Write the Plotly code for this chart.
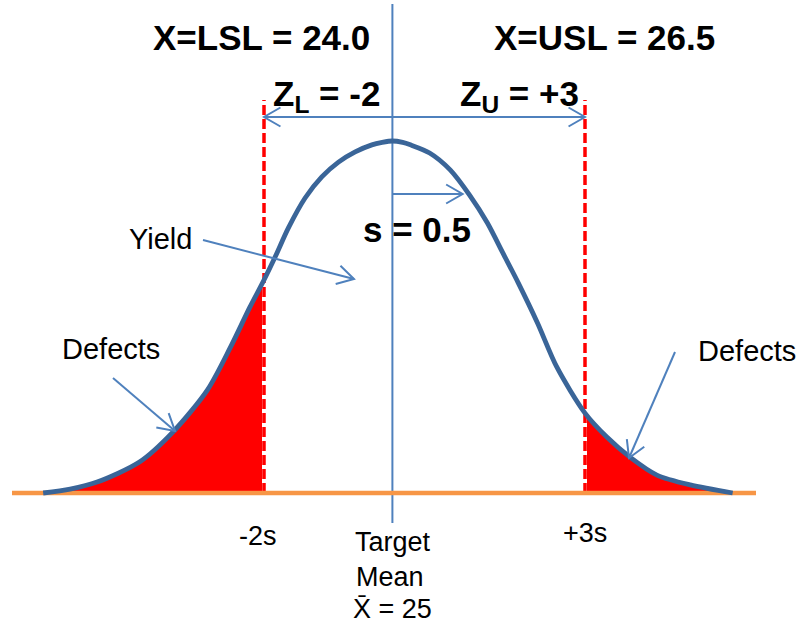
import math
import plotly.graph_objects as go

# Process parameters
mean = 25.0
sigma = 0.5
lsl = 24.0
usl = 26.5

# Bell curve outline (process value, relative height)
curve_x = [22.28, 22.49, 22.70, 23.03, 23.29, 23.56, 23.74, 23.89, 24.00, 24.09,
           24.19, 24.32, 24.45, 24.58, 24.71, 24.84, 24.92, 25.00, 25.08, 25.14,
           25.29, 25.45, 25.60, 25.74, 25.86, 25.98, 26.13, 26.28, 26.50, 26.67,
           26.85, 27.06, 27.32, 27.65]
curve_y = [0.0, 0.011, 0.031, 0.088, 0.173, 0.293, 0.415, 0.528, 0.605, 0.673,
           0.753, 0.838, 0.898, 0.940, 0.969, 0.989, 0.996, 1.0, 0.996, 0.989,
           0.966, 0.918, 0.847, 0.767, 0.682, 0.597, 0.483, 0.358, 0.227, 0.159,
           0.102, 0.051, 0.023, 0.0]

W, H = 803, 623
X_ORIGIN = 21.9439      # process value at the left edge
X_SCALE = 128.4         # pixels per process unit
Y_SCALE = 352.0         # pixels per unit of relative height
BASE_PX = 493.0         # pixel row of the zero line

x_range = [X_ORIGIN, X_ORIGIN + W / X_SCALE]
y_range = [-(H - BASE_PX) / Y_SCALE, BASE_PX / Y_SCALE]

FONT = "Liberation Sans, Arial, sans-serif"
CURVE = "#3A6598"
ARROW = "#4F81BD"
RED = "#FF0000"
ORANGE = "#F79646"


def vx(px):
    return X_ORIGIN + px / X_SCALE


def vy(py):
    return (BASE_PX - py) / Y_SCALE


def to_px(v):
    return (v - X_ORIGIN) * X_SCALE


def pxp(px):
    return px / W


def pyp(py):
    return 1 - py / H


fig = go.Figure()

# Defect tails
left_x = [v for v in curve_x if v <= lsl]
left_y = curve_y[:len(left_x)]
right_idx = [i for i, v in enumerate(curve_x) if v >= usl]
right_x = [curve_x[i] for i in right_idx]
right_y = [curve_y[i] for i in right_idx]
for fx, fy in ((left_x, left_y), (right_x, right_y)):
    fig.add_trace(go.Scatter(x=fx, y=fy, mode="lines", fill="tozeroy",
                             fillcolor=RED, line=dict(width=0, shape="spline"),
                             hoverinfo="skip"))

# Spec limit lines
spec_top = vy(100)
for lim in (lsl, usl):
    fig.add_trace(go.Scatter(x=[lim, lim], y=[0, spec_top], mode="lines",
                             line=dict(color="white", width=4), hoverinfo="skip"))
    fig.add_trace(go.Scatter(x=[lim, lim], y=[0, spec_top], mode="lines",
                             line=dict(color=RED, width=3.5, dash="10px,4px"),
                             hoverinfo="skip"))

# Target mean line
fig.add_trace(go.Scatter(x=[mean, mean], y=[vy(523), vy(4)], mode="lines",
                         line=dict(color=ARROW, width=2), hoverinfo="skip"))

# Zero line
fig.add_trace(go.Scatter(x=[vx(12), vx(756)], y=[0, 0], mode="lines",
                         line=dict(color=ORANGE, width=4.5), hoverinfo="skip"))

# Distribution curve
fig.add_trace(go.Scatter(x=curve_x, y=curve_y, mode="lines",
                         line=dict(color=CURVE, width=4.8, shape="spline",
                                   smoothing=0.8),
                         hoverinfo="skip"))


def arrow(start, tip, heads=("tip",), length=19, angle=30):
    """Open-V arrow drawn in pixel space, converted to paper coordinates."""
    shapes = []
    (sx, sy), (tx, ty) = start, tip
    shapes.append(dict(type="line", xref="paper", yref="paper",
                       x0=pxp(sx), y0=pyp(sy), x1=pxp(tx), y1=pyp(ty),
                       line=dict(color=ARROW, width=2), layer="above"))
    ends = []
    if "tip" in heads:
        ends.append(((tx, ty), (sx, sy)))
    if "start" in heads:
        ends.append(((sx, sy), (tx, ty)))
    for (hx, hy), (ox, oy) in ends:
        d = math.hypot(ox - hx, oy - hy)
        ux, uy = (ox - hx) / d, (oy - hy) / d
        pts = []
        for sgn in (1, -1):
            a = math.radians(angle) * sgn
            rx = ux * math.cos(a) - uy * math.sin(a)
            ry = ux * math.sin(a) + uy * math.cos(a)
            pts.append((hx + rx * length, hy + ry * length))
        path = (f"M {pxp(pts[0][0])},{pyp(pts[0][1])} L {pxp(hx)},{pyp(hy)} "
                f"L {pxp(pts[1][0])},{pyp(pts[1][1])}")
        shapes.append(dict(type="path", xref="paper", yref="paper", path=path,
                           line=dict(color=ARROW, width=2), layer="above"))
    return shapes


shapes = []
# Z distance arrow between the spec limits
shapes += arrow((to_px(lsl), 117), (to_px(usl), 117), heads=("tip", "start"))
# One-sigma arrow
shapes += arrow((to_px(mean), 194), (to_px(mean + sigma) + 6, 194))
# Callout arrows
shapes += arrow((203, 240), (354, 279))
shapes += arrow((113, 378), (175, 431))
shapes += arrow((675, 352), (629, 458))


def label(text, px, py, size, bold=False):
    return dict(text=f"<b>{text}</b>" if bold else text,
                x=pxp(px), y=pyp(py), xref="paper", yref="paper",
                xanchor="center", yanchor="middle", showarrow=False,
                font=dict(family=FONT, size=size, color="black"))


annotations = [
    label(f"X=LSL = {lsl:.1f}", 261, 38, 35, bold=True),
    label(f"X=USL = {usl:.1f}", 604, 38, 35, bold=True),
    label("Z<sub>L</sub> = -2", 326, 96, 35, bold=True),
    label("Z<sub>U</sub> = +3", 519, 96, 35, bold=True),
    label(f"s = {sigma}", 417, 230, 35, bold=True),
    label("Yield", 160, 239, 29),
    label("Defects", 111, 349, 29),
    label("Defects", 747, 351, 29),
    label("-2s", 258, 536, 27),
    label("+3s", 585, 533, 27),
    label("Target", 393, 542, 27),
    label("Mean", 390, 577, 27),
    label(f"X\u0304 = {mean:g}", 392, 609, 27),
]

fig.update_layout(
    width=W, height=H,
    margin=dict(l=0, r=0, t=0, b=0),
    paper_bgcolor="white", plot_bgcolor="white",
    showlegend=False,
    xaxis=dict(range=x_range, visible=False, fixedrange=True),
    yaxis=dict(range=y_range, visible=False, fixedrange=True),
    shapes=shapes,
    annotations=annotations,
)

fig.write_html("out.html")
